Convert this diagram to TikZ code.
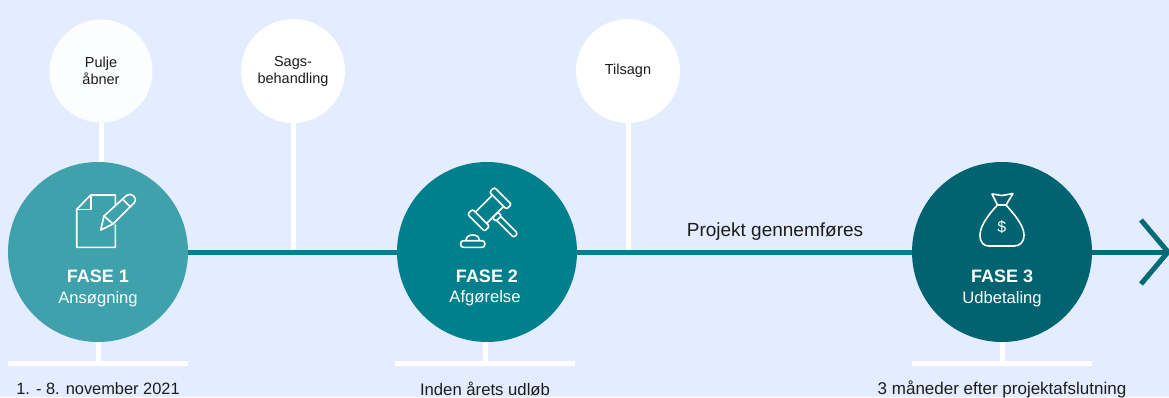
\documentclass[tikz,border=0pt]{standalone}
\usepackage{fontspec}
\setmainfont{Liberation Sans}
\definecolor{bgc}{HTML}{E3EDFF}
\definecolor{fa}{HTML}{3FA1AB}
\definecolor{fb}{HTML}{00808C}
\definecolor{fc}{HTML}{00636F}
\definecolor{axisc}{HTML}{0A7F8B}
\definecolor{inkc}{HTML}{1C1C1C}
\begin{document}
\begin{tikzpicture}[x=1pt,y=-1pt,
  phase/.style={circle,inner sep=0pt,minimum size=180pt},
  milestone/.style={circle,fill=white,inner sep=0pt,minimum size=104pt,align=center,text=inkc,font=\fontsize{14.5}{22}\selectfont},
  stem/.style={draw=white,line width=5pt},
  axisline/.style={draw=axisc,line width=5pt},
  bar/.style={fill=white,inner sep=0pt,minimum width=180pt,minimum height=5pt},
  ptitle/.style={text=white,font=\fontsize{18}{20}\bfseries\selectfont,inner sep=0pt},
  psub/.style={text=white,font=\fontsize{16.6}{18}\selectfont,inner sep=0pt},
  when/.style={text=inkc,font=\fontsize{16.5}{18}\selectfont,inner sep=0pt},
  icon/.style={draw=white,line width=1.6pt,line join=round,line cap=round}]
\useasboundingbox (0,0) rectangle (1169,397);
\clip (0,0) rectangle (1169,397);
\fill[bgc] (0,0) rectangle (1169,397);

\node[phase,fill=fa] (f1) at (98,252) {};
\node[phase,fill=fb] (f2) at (487,252) {};
\node[phase,fill=fc] (f3) at (1002,252) {};
\node[milestone,fill=white!70!bgc!30!white,minimum size=103pt] (m1) at (101,71) {Pulje\\[-5pt]åbner};
\node[milestone] (m2) at (293,71) {Sags-\\[-5pt]behandling};
\node[milestone] (m3) at (628,71) {Tilsagn};
\node[bar] (b1) at (98,363.5) {};
\node[bar] (b2) at (485,363.5) {};
\node[bar] (b3) at (1002,363.5) {};
\coordinate (tip) at (1168,252);
\coordinate (upper) at (1141,220);
\coordinate (lower) at (1141,284);

% stems
\draw[stem] (m1.south) -- (m1.south |- f1.north);
\draw[stem] (m2.south) -- (m2.south |- f1.center);
\draw[stem] (m3.south) -- (m3.south |- f1.center);
\draw[stem] (f1.south) -- (b1.north);
\draw[stem] (b2.north) -- (b2.north |- f2.south);
\draw[stem] (b3.north) -- (b3.north |- f3.south);

% axis
\draw[axisline] (f1) -- (f2);
\draw[axisline] (f2) -- (f3);
\draw[axisline,draw=fc!70!axisc] (f3) -- (tip);
\draw[draw=fc!70!axisc,line width=5pt] (upper) -- (tip) -- (lower);

% labels
\node[ptitle] (t1) at (98,276) {FASE 1};
\node[psub] (s1) at (98,299) {Ansøgning};
\node[ptitle] (t2) at (487,276) {FASE 2};
\node[psub] (s2) at (485,298) {Afgørelse};
\node[ptitle] (t3) at (1002,276) {FASE 3};
\node[psub] (s3) at (1002,299) {Udbetaling};
\node[when,font=\fontsize{16.4}{18}\selectfont] (w1) at (98,389) {1. - 8. november 2021};
\node[when,font=\fontsize{16.7}{18}\selectfont] (w2) at (485,389) {Inden årets udløb};
\node[when,font=\fontsize{17}{18}\selectfont] (w3) at (1002,389) {3 måneder efter projektafslutning};
\node[text=inkc,font=\fontsize{19}{22}\selectfont,inner sep=0pt] (pg) at (775,232) {Projekt gennemføres};

% document icon
\draw[icon] (115.3,205) -- (115.3,195) -- (90.7,195) -- (76.7,209.3) -- (76.7,247.3) -- (115.3,247.3) -- (115.3,225);
\draw[icon] (90.7,195) -- (90.7,209.3) -- (76.7,209.3);
\draw[icon] (100.7,230) -- (104,216) -- (126.5,195.5) .. controls (129,193.5) and (131.5,194) .. (133.5,196) .. controls (136,198.5) and (136,200.5) .. (134,203) -- (113,224) -- cycle;
\draw[icon] (104,216) -- (113,224);
\draw[icon] (122.5,199) -- (130.5,207);

% gavel icon
\begin{scope}[shift={(489.5,209.3)},rotate=-45]
\draw[icon,rounded corners=2pt] (-12,-19) rectangle (12,-12);
\draw[icon,rounded corners=2pt] (-12,12) rectangle (12,19);
\draw[icon] (-8,-12) -- (-8,12);
\draw[icon] (8,-12) -- (8,12);
\draw[icon,rounded corners=1.5pt] (8,-4) rectangle (13,4);
\draw[icon,rounded corners=2pt] (13,-2.8) -- (37,-2.8) -- (37,2.8) -- (13,2.8);
\end{scope}
\draw[icon,rounded corners=2.5pt] (460.7,240.7) rectangle (484.7,247.3);
\draw[icon] (466,240.7) .. controls (466,236.5) and (469,235) .. (472.7,235) .. controls (476.4,235) and (479.3,236.5) .. (479.3,240.7);

% money bag icon
\draw[icon] (997.5,205) .. controls (990,213) and (980,225) .. (980,235) .. controls (980,243) and (984,246) .. (989,246) -- (1014,246) .. controls (1019,246) and (1024,243) .. (1024,235) .. controls (1024,225) and (1013,213) .. (1006,205);
\draw[icon] (997.5,205) -- (1006,205);
\draw[icon] (997.5,205) -- (992,194) .. controls (996,194.5) and (998,195) .. (1001.7,195.5) .. controls (1005,195) and (1008,194.5) .. (1013,193.5) -- (1006,205);
\node[text=white,font=\fontsize{16}{18}\selectfont,inner sep=0pt] (dollar) at (1001.7,227) {\$};
\end{tikzpicture}
\end{document}
